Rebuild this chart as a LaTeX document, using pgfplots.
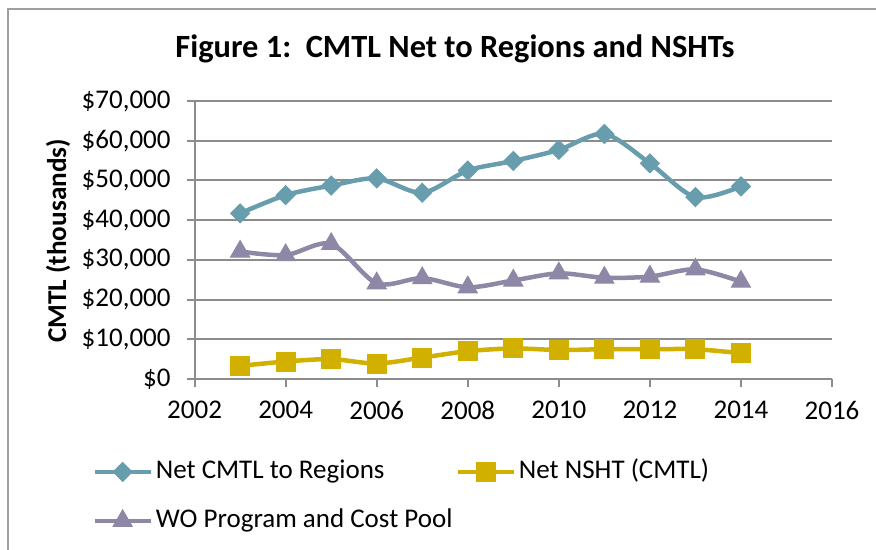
\documentclass[border=0pt]{standalone}
\usepackage{fontspec}
\setmainfont{Carlito}
\usepackage{pgfplots}
\pgfplotsset{compat=1.18}
\definecolor{cteal}{HTML}{689DAE}
\definecolor{cgold}{HTML}{D2B000}
\definecolor{cpurp}{HTML}{8E87A6}
\definecolor{cgrid}{HTML}{8C8C8C}
\definecolor{cframe}{HTML}{A0A0A0}
\begin{document}
\begin{tikzpicture}[x=1pt,y=1pt]
\useasboundingbox (0,0) rectangle (438,-275);
\begin{scope}
\clip (0,0) rectangle (438,-275);
\draw[cframe, line width=1pt] (4,-290) -- (4,-4.75) -- (450,-4.75);
\end{scope}
\node[font=\bfseries\fontsize{16.2}{19}\selectfont] at (227.5,-24.5) {Figure 1:\ \ CMTL Net to Regions and NSHTs};
\node[font=\bfseries\fontsize{13.6}{16}\selectfont, rotate=90] at (29,-120.5) {CMTL (thousands)};
\begin{axis}[
  at={(97.3pt,-189.5pt)}, anchor=south west,
  scale only axis, width=318.7pt, height=139pt,
  xmin=2002, xmax=2016, ymin=0, ymax=70000,
  axis x line*=bottom, axis y line*=left,
  axis line style={cgrid, line width=1pt, -},
  xtick={2002,2004,...,2016},
  ytick={0,10000,...,70000},
  scaled y ticks=false,
  yticklabels={{\$0},{\$10,000},{\$20,000},{\$30,000},{\$40,000},{\$50,000},{\$60,000},{\$70,000}},
  x tick label style={/pgf/number format/1000 sep={}, yshift=-3.5pt},
  y tick label style={xshift=-4.5pt},
  /pgf/number format/assume math mode=true,
  tick label style={font=\fontsize{13.5}{16}\selectfont, black},
  ymajorgrids, grid style={cgrid, line width=1pt},
  major tick length=4pt, tick align=outside, tick style={cgrid, line width=1pt},
  legend columns=2,
  legend cell align=left,
  legend style={at={(0,0)}, anchor=north west, xshift=-51.3pt, yshift=-40pt,
    draw=none, fill=none, inner sep=0pt, font=\fontsize{13.5}{16}\selectfont,
    /tikz/column sep=1.5pt, row sep=12pt,
    nodes={inner sep=0pt, text height=9.5pt, text depth=3pt}},
  legend image code/.code={\draw[mark repeat=2, mark phase=2, #1] plot coordinates {(0pt,0pt) (14pt,0pt) (28pt,0pt)};},
]
\addplot[cteal, line width=2.25pt, smooth, mark=diamond*, mark size=4.75pt, mark options={solid, line width=0.5pt, xscale=1.33}] coordinates {
(2003,41700) (2004,46300) (2005,48700) (2006,50500) (2007,46900) (2008,52500)
(2009,54900) (2010,57700) (2011,61700) (2012,54300) (2013,45800) (2014,48500)};
\addlegendentry{\makebox[146.5pt][l]{Net CMTL to Regions}}
\addplot[cgold, line width=2.25pt, smooth, mark=square*, mark size=4.75pt, mark options={solid, line width=0.5pt}] coordinates {
(2003,3300) (2004,4400) (2005,5000) (2006,3900) (2007,5400) (2008,7000)
(2009,7700) (2010,7300) (2011,7500) (2012,7500) (2013,7500) (2014,6500)};
\addlegendentry{Net NSHT (CMTL)}
\addplot[cpurp, line width=2.25pt, smooth, mark=triangle*, mark size=5.5pt, mark options={solid, line width=0.5pt}] coordinates {
(2003,32100) (2004,31200) (2005,34000) (2006,24100) (2007,25400) (2008,23100)
(2009,24800) (2010,26600) (2011,25500) (2012,25800) (2013,27600) (2014,24500)};
\addlegendentry{WO Program and Cost Pool}
\end{axis}
\end{tikzpicture}
\end{document}
